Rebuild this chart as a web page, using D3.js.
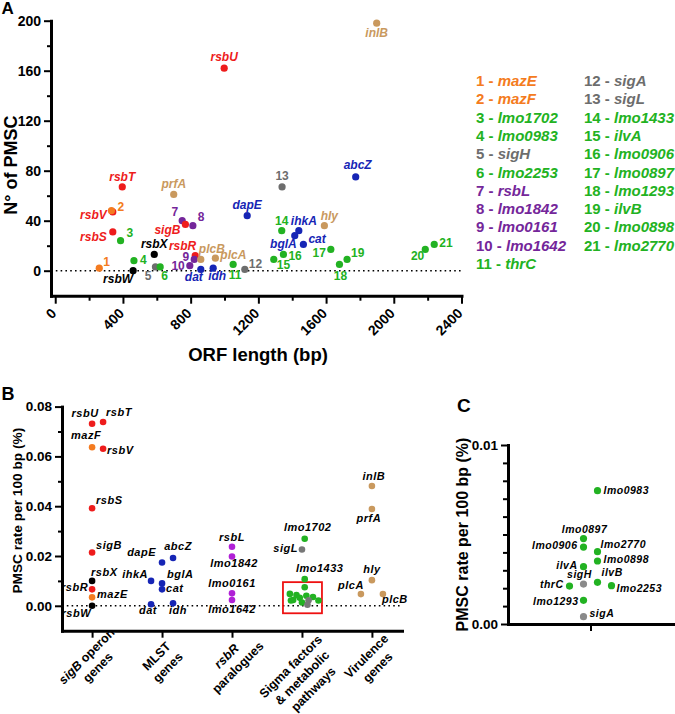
<!DOCTYPE html>
<html>
<head>
<meta charset="utf-8">
<script src="https://cdn.jsdelivr.net/npm/d3@7"></script>
<style>
  body { margin: 0; background: #fff; }
  svg { display: block; font-family: Arial, "Liberation Sans", sans-serif; }
</style>
</head>
<body>
<div id="chart"></div>
<script>
// ---------- data ----------
// panel A: ORF length (bp) vs number of PMSC
const genesA = ['rsbU','inlB','rsbT','prfA','rsbV','mazF','rsbS','lmo1702','mazE','lmo0983','rsbW','rsbX','sigH','lmo2253',
  'rsbL','sigB','lmo1842','rsbR','lmo0161','lmo1642','plcB','dat','plcA','idh','thrC','sigA','sigL','dapE','abcZ',
  'lmo1433','ihkA','bglA','cat','hly','ilvA','lmo0906','lmo0897','lmo1293','ilvB','lmo0898','lmo2770'];
const orfLength = [998,1899,396,700,340,332,340,386,260,465,460,585,592,620,
  750,769,813,827,821,795,860,860,946,933,1051,1120,1340,1134,1775,
  1338,1439,1415,1466,1590,1291,1348,1628,1679,1724,2186,2239];
const pmscCount = [162,198,67,61,47,48,31,24,2,8,0,13,3,3,
  40,37,36,12,9,4,9,1,10,2,5,1,67,44,75,
  32,32,28,21,36,9,13,17,5,9,17,21];

// numbered genes in the legend of panel A
const legendGenes = ['mazE','mazF','lmo1702','lmo0983','sigH','lmo2253','rsbL','lmo1842','lmo0161','lmo1642','thrC',
  'sigA','sigL','lmo1433','ilvA','lmo0906','lmo0897','lmo1293','ilvB','lmo0898','lmo2770'];

// panel B: PMSC rate per 100 bp (%) by gene category
const categories = ['sigB operon genes','MLST genes','rsbR paralogues','Sigma factors & metabolic pathways','Virulence genes'];
const categoryLines = [['sigB operon','genes'],['MLST','genes'],['rsbR','paralogues'],['Sigma factors','& metabolic','pathways'],['Virulence','genes']];
const genesB = ['rsbU','rsbT','mazF','rsbV','rsbS','sigB','rsbX','rsbR','mazE','rsbW',
  'dapE','abcZ','ihkA','bglA','cat','dat','idh',
  'rsbL','lmo1842','lmo0161','lmo1642',
  'lmo1702','sigL','lmo1433','lmo0983','lmo0897','lmo0906','lmo2770','lmo0898','ilvA','sigH','ilvB','thrC','lmo2253','lmo1293','sigA',
  'inlB','prfA','hly','plcA','plcB'];
const rateB = [0.0731,0.0738,0.0637,0.0631,0.0392,0.0214,0.0100,0.0066,0.0034,0.0,
  0.0174,0.0192,0.0100,0.0090,0.0066,0.0006,0.0010,
  0.0237,0.0198,0.0050,0.0023,
  0.0269,0.0226,0.0107,0.00745,0.00477,0.0043,0.00404,0.00352,0.0032,0.00223,0.00233,0.00212,0.00214,0.00132,0.00041,
  0.0481,0.0389,0.0103,0.0047,0.0047];
const categoryB = [0,0,0,0,0,0,0,0,0,0, 1,1,1,1,1,1,1, 2,2,2,2, 3,3,3,3,3,3,3,3,3,3,3,3,3,3,3, 4,4,4,4,4];

// gene groups (colour classes)
const geneGroup = {
  rsbU:'rsb', rsbT:'rsb', rsbV:'rsb', rsbS:'rsb', sigB:'rsb', rsbR:'rsb', rsbX:'blk', rsbW:'blk', mazE:'maz', mazF:'maz',
  dapE:'mlst', abcZ:'mlst', ihkA:'mlst', bglA:'mlst', cat:'mlst', dat:'mlst', idh:'mlst',
  rsbL:'par', lmo1842:'par', lmo0161:'par', lmo1642:'par',
  sigA:'sig', sigH:'sig', sigL:'sig',
  inlB:'vir', prfA:'vir', hly:'vir', plcA:'vir', plcB:'vir'
};
const groupOf = g => geneGroup[g] || 'met';

// ---------- styling / layout config ----------
const colA = {rsb:'#ee1c1c', blk:'#000', maz:'#f47b20', mlst:'#1625b5', par:'#74269a', met:'#22b222', sig:'#6d6d6d', vir:'#c9995e'};
const colB = Object.assign({}, colA, {par:'#b020d6', sig:'#777'});
const colC = Object.assign({}, colA, {sig:'#8a8a8a'});

// horizontal spread (Prism scatter) in slot units
const slotB = {rsbT:1, rsbV:1, abcZ:1, ihkA:-1, dat:-1, idh:1, plcA:-1, plcB:1,
  lmo1702:0.25, lmo1433:0.25, lmo0983:0.25, lmo0897:-1.1, lmo0906:-0.5, lmo2770:0.4, lmo0898:1.0, ilvA:-0.2,
  sigH:0.6, ilvB:-0.8, thrC:-1.0, lmo2253:1.5, lmo1293:0.0, sigA:0.5};
const slotC = {lmo0983:0.5, lmo0897:-0.5, lmo0906:-0.5, lmo2770:0.5, lmo0898:0.5, ilvA:-0.5, sigH:-0.5, ilvB:0.5,
  thrC:-1.5, lmo2253:1.5, lmo1293:-0.5, sigA:-0.5};

// label placement: [anchor, dx, dy]
const labA = {
  rsbU:['middle',0,-7], inlB:['middle',0,14], rsbT:['middle',0,-6], prfA:['middle',0,-6], rsbV:['end',-6,7],
  mazF:['start',6,0], rsbS:['end',-6,9], lmo1702:['start',6,-4], mazE:['start',4,-2], lmo0983:['start',6,3],
  rsbW:['end',0,12], rsbX:['middle',0,-6], sigH:['end',-4,13], lmo2253:['start',1,13], rsbL:['end',-4,-5],
  sigB:['end',-5,10], lmo1842:['start',5,-5], rsbR:['end',1,-6], lmo0161:['end',-5,2], lmo1642:['end',-5,4],
  plcB:['start',-2,-6], dat:['end',2,12], plcA:['start',5,1], idh:['middle',4,12], thrC:['middle',2,15],
  sigA:['start',4,-1], sigL:['middle',0,-7], dapE:['middle',0,-7], abcZ:['middle',2,-8], lmo1433:['middle',0,-6],
  ihkA:['middle',5,-6], bglA:['end',2,12], cat:['start',5,-1], hly:['middle',5,-6], ilvA:['start',3,10],
  lmo0906:['start',5,6], lmo0897:['end',-5,8], lmo1293:['middle',1,16], ilvB:['start',4,-2], lmo0898:['end',-1,11],
  lmo2770:['start',5,3]
};
const labB = {
  rsbU:['middle',-7,-7], rsbT:['start',3,-6], mazF:['middle',-6,-8], rsbV:['start',4,5], rsbS:['start',4,-4],
  sigB:['start',4,-4], rsbX:['start',-1,-5], rsbR:['end',-4,2], mazE:['start',5,1], rsbW:['end',-1,11],
  dapE:['end',-6,-6], abcZ:['middle',5,-8], ihkA:['end',-3,-3], bglA:['start',5,-5], cat:['start',4,3],
  dat:['middle',-3,10], idh:['middle',5,11], rsbL:['middle',0,-6], lmo1842:['middle',2,11], lmo0161:['middle',0,-6],
  lmo1642:['middle',0,13], lmo1702:['middle',3,-8], sigL:['end',-4,2], lmo1433:['middle',15,-7],
  inlB:['middle',2,-6], prfA:['middle',-3,13], hly:['middle',0,-7], plcA:['end',3,-5], plcB:['start',-1,9]
};
const labC = {
  lmo0983:['start',6,3], lmo0897:['middle',1,-6], lmo0906:['end',-6,2], lmo2770:['start',3,-4], lmo0898:['start',6,2],
  ilvA:['end',-6,2], sigH:['middle',-4,-6], ilvB:['start',4,-6], thrC:['end',-6,2], lmo2253:['start',5,6],
  lmo1293:['end',-5,5], sigA:['start',6,0]
};

const W = 675, H = 714;
const svg = d3.select('#chart').append('svg').attr('width', W).attr('height', H);

function styleAxis(g, fs) {
  g.attr('font-family', null).attr('font-size', fs);
  g.select('.domain').attr('stroke-width', 3).attr('stroke-linecap', 'square');
  g.selectAll('.tick line').attr('stroke-width', 2);
  g.selectAll('.tick text').attr('font-weight', 'bold').attr('fill', '#000');
}

function panelLetter(t, x, y, fs) {
  svg.append('text').attr('x', x).attr('y', y).attr('font-size', fs).attr('font-weight', 'bold').text(t);
}

// ================= Panel A =================
const xA = d3.scaleLinear().domain([-25, 2400]).range([51, 461.5]);
const yA = d3.scaleLinear().domain([-20, 200]).range([295.7, 20.7]);
const gA = svg.append('g');

gA.append('g').attr('transform', 'translate(51,0)')
  .call(d3.axisLeft(yA).tickValues(d3.range(20, 200, 40)).tickSize(4).tickFormat('').tickSizeOuter(0))
  .call(g => { g.select('.domain').remove(); g.selectAll('line').attr('stroke-width', 2); });
gA.append('g').attr('transform', 'translate(51,0)')
  .call(d3.axisLeft(yA).tickValues(d3.range(0, 201, 40)).tickSize(7).tickPadding(3).tickSizeOuter(0))
  .call(g => styleAxis(g, 14));

gA.append('g').attr('transform', `translate(0,${yA(-20)})`)
  .call(d3.axisBottom(xA).tickValues(d3.range(200, 2400, 400)).tickSize(5).tickFormat('').tickSizeOuter(0))
  .call(g => { g.select('.domain').remove(); g.selectAll('line').attr('stroke-width', 2); });
gA.append('g').attr('transform', `translate(0,${yA(-20)})`)
  .call(d3.axisBottom(xA).tickValues(d3.range(0, 2401, 400)).tickFormat(d3.format('d')).tickSize(8).tickSizeOuter(0))
  .call(g => {
    styleAxis(g, 14);
    g.selectAll('.tick text').attr('y', 0).attr('dy', '0.35em').attr('text-anchor', 'end')
      .attr('transform', 'translate(-2,15) rotate(-45)');
  });

gA.append('line').attr('x1', 51).attr('x2', 461.5).attr('y1', yA(0)).attr('y2', yA(0))
  .attr('stroke', '#000').attr('stroke-width', 1.6).attr('stroke-dasharray', '1.6,3.2');

gA.append('text').attr('transform', `translate(16.5,${(yA(200) + yA(-20)) / 2 + 7}) rotate(-90)`)
  .attr('text-anchor', 'middle').attr('font-size', 18).attr('font-weight', 'bold').text('N° of PMSC');
gA.append('text').attr('x', 258).attr('y', 361)
  .attr('text-anchor', 'middle').attr('font-size', 18.5).attr('font-weight', 'bold').text('ORF length (bp)');

const dataA = genesA.map((g, i) => ({gene: g, len: orfLength[i], n: pmscCount[i], grp: groupOf(g)}));
gA.append('g').selectAll('circle').data(dataA).join('circle')
  .attr('cx', d => xA(d.len)).attr('cy', d => yA(d.n)).attr('r', 3.6)
  .attr('fill', d => colA[d.grp]);

gA.append('g').selectAll('text').data(dataA).join('text')
  .attr('x', d => xA(d.len) + labA[d.gene][1]).attr('y', d => yA(d.n) + labA[d.gene][2])
  .attr('text-anchor', d => labA[d.gene][0])
  .attr('font-size', 12).attr('font-weight', 'bold')
  .attr('font-style', d => legendGenes.includes(d.gene) ? 'normal' : 'italic')
  .attr('fill', d => colA[d.grp])
  .text(d => legendGenes.includes(d.gene) ? legendGenes.indexOf(d.gene) + 1 : d.gene);

// legend
const legend = svg.append('g').attr('font-size', 15).attr('font-weight', 'bold');
legend.selectAll('text').data(legendGenes).join('text')
  .attr('x', (d, i) => i < 11 ? 476 : 584)
  .attr('y', (d, i) => 86 + (i < 11 ? i : i - 11) * 18.3)
  .attr('fill', d => colA[groupOf(d)])
  .each(function (d, i) {
    const t = d3.select(this);
    t.append('tspan').text(`${i + 1} - `);
    t.append('tspan').attr('font-style', 'italic').text(d);
  });

panelLetter('A', 1.5, 14, 17);

// ================= Panel B =================
const xB = d3.scalePoint().domain(d3.range(categories.length)).range([62, 402]).padding(0.43);
const yB = d3.scaleLinear().domain([-0.01, 0.08]).range([630.7, 406.6]);
const gB = svg.append('g');

gB.append('g').attr('transform', 'translate(62,0)')
  .call(d3.axisLeft(yB).tickValues([0.01, 0.03, 0.05, 0.07]).tickSize(4).tickFormat('').tickSizeOuter(0))
  .call(g => { g.select('.domain').remove(); g.selectAll('line').attr('stroke-width', 2); });
gB.append('g').attr('transform', 'translate(62,0)')
  .call(d3.axisLeft(yB).tickValues([0, 0.02, 0.04, 0.06, 0.08]).tickFormat(d3.format('.2f')).tickSize(7).tickPadding(3).tickSizeOuter(0))
  .call(g => styleAxis(g, 13.5));
gB.append('g').attr('transform', `translate(0,${yB(-0.01)})`)
  .call(d3.axisBottom(xB).tickSize(7).tickFormat('').tickSizeOuter(0))
  .call(g => styleAxis(g, 13));

// category labels, rotated about their centre
const catG = gB.append('g').attr('font-size', 12.5).attr('font-weight', 'bold');
categoryLines.forEach((lines, ci) => {
  const n = lines.length;
  const lg = catG.append('g')
    .attr('transform', `translate(${xB(ci)},${yB(-0.01) + 16 * n - 1}) rotate(-45)`);
  lines.forEach((ln, li) => {
    const t = lg.append('text').attr('text-anchor', 'middle')
      .attr('y', (li - (n - 1) / 2) * 16).attr('dy', '0.35em');
    ln.split(/(\bsigB\b|\brsbR\b)/).filter(s => s).forEach(s => {
      t.append('tspan').attr('font-style', (s === 'sigB' || s === 'rsbR') ? 'italic' : null).text(s);
    });
  });
});

gB.append('line').attr('x1', 62).attr('x2', 402).attr('y1', yB(0)).attr('y2', yB(0))
  .attr('stroke', '#000').attr('stroke-width', 1.6).attr('stroke-dasharray', '1.6,3.2');

gB.append('text').attr('transform', `translate(21.5,${(yB(0.08) + yB(-0.01)) / 2 - 8}) rotate(-90)`)
  .attr('text-anchor', 'middle').attr('font-size', 13.7).attr('font-weight', 'bold').text('PMSC rate per 100 bp (%)');

const stepB = 11;
const dataB = genesB.map((g, i) => ({gene: g, rate: rateB[i], cat: categoryB[i], grp: groupOf(g)}));

// red box marking the subset enlarged in panel C
gB.append('rect')
  .attr('x', xB(3) - 19).attr('y', yB(0.0095))
  .attr('width', 39).attr('height', yB(-0.003) - yB(0.0095))
  .attr('fill', 'none').attr('stroke', '#ee1111').attr('stroke-width', 1.8);

gB.append('g').selectAll('circle').data(dataB).join('circle')
  .attr('cx', d => xB(d.cat) + (slotB[d.gene] || 0) * stepB).attr('cy', d => yB(d.rate)).attr('r', 3.3)
  .attr('fill', d => colB[d.grp]);

gB.append('g').selectAll('text').data(dataB.filter(d => labB[d.gene])).join('text')
  .attr('x', d => xB(d.cat) + (slotB[d.gene] || 0) * stepB + labB[d.gene][1])
  .attr('y', d => yB(d.rate) + labB[d.gene][2])
  .attr('text-anchor', d => labB[d.gene][0])
  .attr('font-size', 11).attr('font-weight', 'bold').attr('font-style', 'italic').attr('letter-spacing', 0.5)
  .text(d => d.gene);

panelLetter('B', 1.5, 400, 18);

// ================= Panel C =================
const yC = d3.scaleLinear().domain([0, 0.01]).range([624, 445]);
const xC = d3.scalePoint().domain([3]).range([508, 673]);
const gC = svg.append('g');

gC.append('g').attr('transform', 'translate(508,0)')
  .call(d3.axisLeft(yC).tickValues(d3.range(1, 10).map(i => i * 0.001)).tickSize(5).tickFormat('').tickSizeOuter(0))
  .call(g => { g.select('.domain').remove(); g.selectAll('line').attr('stroke-width', 2); });
gC.append('g').attr('transform', 'translate(508,0)')
  .call(d3.axisLeft(yC).tickValues([0, 0.01]).tickFormat(d3.format('.2f')).tickSize(7).tickPadding(3).tickSizeOuter(0))
  .call(g => styleAxis(g, 13.5));
gC.append('g').attr('transform', `translate(0,${yC(0)})`)
  .call(d3.axisBottom(xC).tickSize(7).tickFormat('').tickSizeOuter(0))
  .call(g => styleAxis(g, 13));

gC.append('text').attr('transform', `translate(468,${(yC(0) + yC(0.01)) / 2}) rotate(-90)`)
  .attr('text-anchor', 'middle').attr('font-size', 16).attr('font-weight', 'bold').text('PMSC rate per 100 bp (%)');

const stepC = 14;
const dataC = dataB.filter(d => d.cat === 3 && d.rate < 0.01 && slotC[d.gene] !== undefined);
gC.append('g').selectAll('circle').data(dataC).join('circle')
  .attr('cx', d => xC(3) + slotC[d.gene] * stepC).attr('cy', d => yC(d.rate)).attr('r', 3.6)
  .attr('fill', d => colC[d.grp]);
gC.append('g').selectAll('text').data(dataC).join('text')
  .attr('x', d => xC(3) + slotC[d.gene] * stepC + labC[d.gene][1])
  .attr('y', d => yC(d.rate) + labC[d.gene][2])
  .attr('text-anchor', d => labC[d.gene][0])
  .attr('font-size', 10.5).attr('font-weight', 'bold').attr('font-style', 'italic').attr('letter-spacing', 0.5)
  .text(d => d.gene);

panelLetter('C', 457, 411.5, 19);
</script>
</body>
</html>
